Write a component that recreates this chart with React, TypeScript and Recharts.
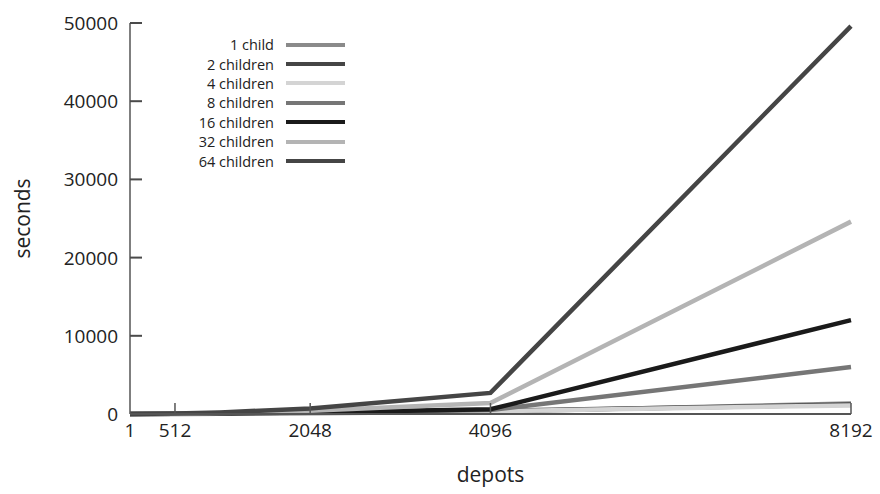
import React from "react";
import { LineChart, Line, XAxis, YAxis } from "recharts";

const depots = [1, 512, 1024, 2048, 4096, 8192];

const oneChild = [0, 10, 30, 80, 300, 1350];
const twoChildren = [0, 20, 50, 150, 400, 1200];
const fourChildren = [0, 15, 40, 120, 350, 1100];
const eightChildren = [0, 20, 60, 180, 500, 6000];
const sixteenChildren = [0, 20, 60, 200, 600, 12000];
const thirtyTwoChildren = [0, 40, 120, 400, 1400, 24600];
const sixtyFourChildren = [0, 60, 200, 700, 2700, 49600];

const xTicks = [1, 512, 2048, 4096, 8192];
const yTicks = [0, 10000, 20000, 30000, 40000, 50000];

const series = [
  { key: "c1", name: "1 child", values: oneChild, color: "#8a8a8a" },
  { key: "c2", name: "2 children", values: twoChildren, color: "#454545" },
  { key: "c4", name: "4 children", values: fourChildren, color: "#d4d4d4" },
  { key: "c8", name: "8 children", values: eightChildren, color: "#767676" },
  { key: "c16", name: "16 children", values: sixteenChildren, color: "#1a1a1a" },
  { key: "c32", name: "32 children", values: thirtyTwoChildren, color: "#b4b4b4" },
  { key: "c64", name: "64 children", values: sixtyFourChildren, color: "#454545" },
];

const data = depots.map((d, i) => {
  const row: Record<string, number> = { depots: d };
  series.forEach((s) => (row[s.key] = s.values[i]));
  return row;
});

const FONT = "'Open Sans', sans-serif";
const AXIS = "#555";
const W = 880;
const H = 494;
const Y_AXIS_W = 130;
const Y_TICK_MARGIN = 12;

const NoLabel = () => null;

// y labels plus a short mark pointing into the plot
const YTick = (props: any) => {
  const { x, y, payload } = props;
  const axisX = x + Y_TICK_MARGIN;
  return (
    <g>
      <text x={x} y={y} dy={7} textAnchor="end" fontSize={19} fill="#222" fontFamily={FONT}>
        {payload.value}
      </text>
      {payload.value !== 0 && <rect x={axisX} y={y - 1} width={12} height={2} fill="#4a4a4a" />}
    </g>
  );
};

// legend drawn as an overlay so it doesn't eat into the plot area
const LegendBox = () => (
  <div style={{ position: "absolute", left: 140, top: 35, width: 205, fontFamily: FONT, fontSize: 14.5, color: "#222" }}>
    {series.map((s) => (
      <div key={s.key} style={{ display: "flex", alignItems: "center", justifyContent: "flex-end", height: 19.4 }}>
        <span style={{ marginRight: 12 }}>{s.name}</span>
        <span style={{ display: "inline-block", width: 59, height: 4, background: s.color }} />
      </div>
    ))}
  </div>
);

export default function App() {
  return (
    <div style={{ position: "relative", width: W, height: H, background: "#fff" }}>
      <style>{`body{margin:0}`}</style>
      <LineChart width={W} height={H} data={data} margin={{ top: 23, right: 29, left: 0, bottom: 0 }}>
        <XAxis
          dataKey="depots"
          type="number"
          domain={[1, 8192]}
          ticks={xTicks}
          height={80}
          tickLine={false}
          tickSize={0}
          tickMargin={10}
          tick={{ fontSize: 19, fill: "#222", fontFamily: FONT }}
          stroke={AXIS}
          strokeWidth={2}
          label={{ value: "depots", position: "insideBottom", offset: 12, fontSize: 21, fill: "#222", fontFamily: FONT }}
        />
        {/* inward tick marks on the x axis */}
        <XAxis
          xAxisId="marks"
          dataKey="depots"
          type="number"
          domain={[1, 8192]}
          ticks={xTicks.slice(1)}
          mirror
          axisLine={false}
          tickSize={11}
          tickLine={{ stroke: AXIS, strokeWidth: 1.5 }}
          tick={<NoLabel />}
        />
        <YAxis
          type="number"
          domain={[0, 50000]}
          ticks={yTicks}
          width={Y_AXIS_W}
          tickLine={false}
          tickSize={0}
          tickMargin={Y_TICK_MARGIN}
          tick={<YTick />}
          stroke={AXIS}
          strokeWidth={1.5}
          label={{
            value: "seconds",
            angle: -90,
            position: "insideLeft",
            offset: 23,
            fontSize: 21,
            fill: "#222",
            fontFamily: FONT,
            style: { textAnchor: "middle" },
          }}
        />
        {series.map((s) => (
          <Line
            key={s.key}
            dataKey={s.key}
            name={s.name}
            stroke={s.color}
            strokeWidth={4.5}
            dot={false}
            isAnimationActive={false}
            type="linear"
          />
        ))}
      </LineChart>
      <LegendBox />
    </div>
  );
}
